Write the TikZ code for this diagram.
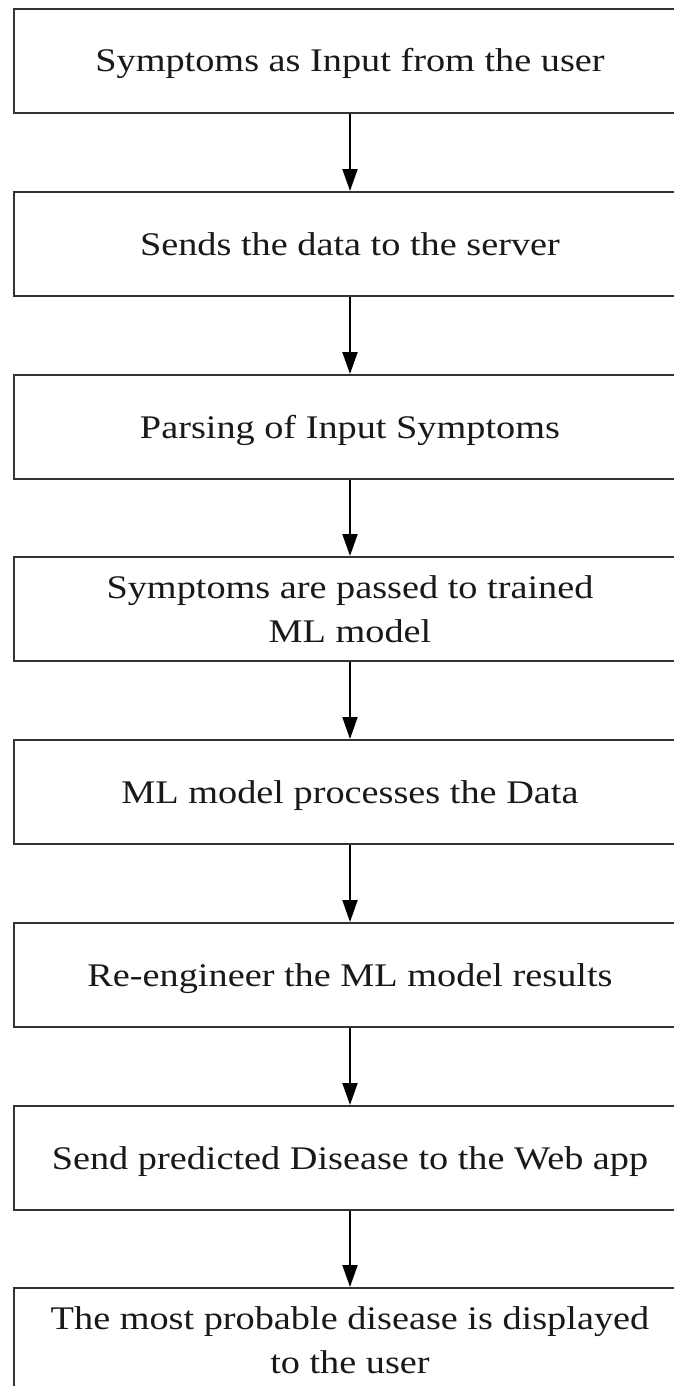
\documentclass[tikz,border=0pt]{standalone}
\usepackage{fontspec}
\setmainfont{Liberation Serif}
\newfontfamily\widesf[FakeStretch=1.16]{Liberation Serif}
\usetikzlibrary{arrows.meta}
\tikzset{
  stepbox/.style={draw=black!80, line width=2pt, rectangle, minimum width=672pt,
    minimum height=104pt, inner sep=0pt, align=center,
    font=\widesf\fontsize{33}{44}\selectfont, text=black!90},
  oneline/.style={text height=29pt, text depth=7pt},
  flow/.style={draw=black, line width=2pt, -{Triangle[length=22pt,width=15pt]}}
}
\begin{document}
\begin{tikzpicture}[x=1pt,y=-1pt]
\useasboundingbox (0,0) rectangle (674,1386);
\clip (0,0) rectangle (674,1386);
\fill[white] (0,0) rectangle (674,1386);
\node[stepbox,oneline] (s1) at (350,61) {Symptoms as Input from the user};
\node[stepbox,oneline] (s2) at (350,244) {Sends the data to the server};
\node[stepbox,oneline] (s3) at (350,427) {Parsing of Input Symptoms};
\node[stepbox] (s4) at (350,609) {Symptoms are passed to trained\\ML model};
\node[stepbox,oneline] (s5) at (350,792) {ML model processes the Data};
\node[stepbox,oneline] (s6) at (350,975) {Re-engineer the ML model results};
\node[stepbox,oneline] (s7) at (350,1158) {Send predicted Disease to the Web app};
\node[stepbox] (s8) at (350,1340) {The most probable disease is displayed\\to the user};
\foreach \a/\b in {s1/s2,s2/s3,s3/s4,s4/s5,s5/s6,s6/s7,s7/s8}
  \draw[flow] (\a.south) -- (\b.north);
\end{tikzpicture}
\end{document}
